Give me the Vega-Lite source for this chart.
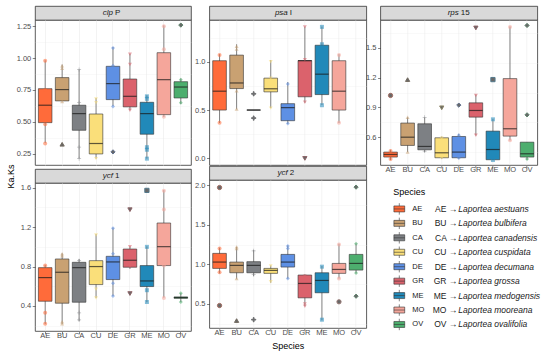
{
"padding": {"left": 5, "top": 5, "right": 0, "bottom": 0},
"background": "white",
"datasets": {
"genes": [
{"gene": "clpP", "it": "clp", "rest": "P"},
{"gene": "psaI", "it": "psa", "rest": "I"},
{"gene": "rps15", "it": "rps", "rest": "15"},
{"gene": "ycf1", "it": "ycf", "rest": "1"},
{"gene": "ycf2", "it": "ycf", "rest": "2"}
],
"desc": [
{"sp": "AE", "code": "AE →", "name": "Laportea aestuans"},
{"sp": "BU", "code": "BU →", "name": "Laportea bulbifera"},
{"sp": "CA", "code": "CA →", "name": "Laportea canadensis"},
{"sp": "CU", "code": "CU →", "name": "Laportea cuspidata"},
{"sp": "DE", "code": "DE →", "name": "Laportea decumana"},
{"sp": "GR", "code": "GR →", "name": "Laportea grossa"},
{"sp": "ME", "code": "ME →", "name": "Laportea medogensis"},
{"sp": "MO", "code": "MO →", "name": "Laportea mooreana"},
{"sp": "OV", "code": "OV →", "name": "Laportea ovalifolia"}
],
"box": [
{"gene": "clpP", "sp": "AE", "lo": 0.334, "q1": 0.493, "med": 0.63, "q3": 0.76, "hi": 0.983},
{"gene": "clpP", "sp": "BU", "lo": 0.664, "q1": 0.664, "med": 0.753, "q3": 0.847, "hi": 0.95},
{"gene": "clpP", "sp": "CA", "lo": 0.21, "q1": 0.433, "med": 0.564, "q3": 0.63, "hi": 0.912},
{"gene": "clpP", "sp": "CU", "lo": 0.21, "q1": 0.247, "med": 0.329, "q3": 0.561, "hi": 0.687},
{"gene": "clpP", "sp": "DE", "lo": 0.622, "q1": 0.674, "med": 0.8, "q3": 0.936, "hi": 1.088},
{"gene": "clpP", "sp": "GR", "lo": 0.59, "q1": 0.617, "med": 0.7, "q3": 0.836, "hi": 1.035},
{"gene": "clpP", "sp": "ME", "lo": 0.21, "q1": 0.402, "med": 0.564, "q3": 0.653, "hi": 0.708},
{"gene": "clpP", "sp": "MO", "lo": 0.538, "q1": 0.556, "med": 0.831, "q3": 1.043, "hi": 1.258},
{"gene": "clpP", "sp": "OV", "lo": 0.64, "q1": 0.687, "med": 0.773, "q3": 0.815, "hi": 0.84},
{"gene": "psaI", "sp": "AE", "lo": 0.366, "q1": 0.5, "med": 0.695, "q3": 1.01, "hi": 1.078},
{"gene": "psaI", "sp": "BU", "lo": 0.508, "q1": 0.722, "med": 0.78, "q3": 1.068, "hi": 1.18},
{"gene": "psaI", "sp": "CA", "lo": 0.5, "q1": 0.5, "med": 0.5, "q3": 0.5, "hi": 0.5},
{"gene": "psaI", "sp": "CU", "lo": 0.52, "q1": 0.688, "med": 0.72, "q3": 0.83, "hi": 1.017},
{"gene": "psaI", "sp": "DE", "lo": 0.356, "q1": 0.39, "med": 0.525, "q3": 0.566, "hi": 0.79},
{"gene": "psaI", "sp": "GR", "lo": 0.576, "q1": 0.637, "med": 1.01, "q3": 1.012, "hi": 1.363},
{"gene": "psaI", "sp": "ME", "lo": 0.553, "q1": 0.66, "med": 0.871, "q3": 1.17, "hi": 1.363},
{"gene": "psaI", "sp": "MO", "lo": 0.366, "q1": 0.5, "med": 0.695, "q3": 1.01, "hi": 1.078},
{"gene": "rps15", "sp": "AE", "lo": 0.37, "q1": 0.4, "med": 0.426, "q3": 0.45, "hi": 0.473},
{"gene": "rps15", "sp": "BU", "lo": 0.45, "q1": 0.517, "med": 0.6, "q3": 0.742, "hi": 0.8},
{"gene": "rps15", "sp": "CA", "lo": 0.45, "q1": 0.473, "med": 0.507, "q3": 0.735, "hi": 0.8},
{"gene": "rps15", "sp": "CU", "lo": 0.383, "q1": 0.393, "med": 0.443, "q3": 0.594, "hi": 0.607},
{"gene": "rps15", "sp": "DE", "lo": 0.383, "q1": 0.393, "med": 0.45, "q3": 0.607, "hi": 0.634},
{"gene": "rps15", "sp": "GR", "lo": 0.617, "q1": 0.802, "med": 0.869, "q3": 0.946, "hi": 1.03},
{"gene": "rps15", "sp": "ME", "lo": 0.373, "q1": 0.373, "med": 0.476, "q3": 0.661, "hi": 0.785},
{"gene": "rps15", "sp": "MO", "lo": 0.567, "q1": 0.611, "med": 0.685, "q3": 1.19, "hi": 1.715},
{"gene": "rps15", "sp": "OV", "lo": 0.37, "q1": 0.4, "med": 0.433, "q3": 0.55, "hi": 0.55},
{"gene": "ycf1", "sp": "AE", "lo": 0.218, "q1": 0.448, "med": 0.688, "q3": 0.789, "hi": 0.816},
{"gene": "ycf1", "sp": "BU", "lo": 0.218, "q1": 0.428, "med": 0.742, "q3": 0.877, "hi": 0.934},
{"gene": "ycf1", "sp": "CA", "lo": 0.245, "q1": 0.438, "med": 0.789, "q3": 0.843, "hi": 0.877},
{"gene": "ycf1", "sp": "CU", "lo": 0.48, "q1": 0.617, "med": 0.8, "q3": 0.86, "hi": 1.13},
{"gene": "ycf1", "sp": "DE", "lo": 0.5, "q1": 0.668, "med": 0.847, "q3": 0.904, "hi": 1.195},
{"gene": "ycf1", "sp": "GR", "lo": 0.776, "q1": 0.793, "med": 0.864, "q3": 0.978, "hi": 1.005},
{"gene": "ycf1", "sp": "ME", "lo": 0.438, "q1": 0.597, "med": 0.654, "q3": 0.81, "hi": 1.005},
{"gene": "ycf1", "sp": "MO", "lo": 0.485, "q1": 0.81, "med": 1.002, "q3": 1.242, "hi": 1.576},
{"gene": "ycf1", "sp": "OV", "lo": 0.44, "q1": 0.478, "med": 0.485, "q3": 0.492, "hi": 0.53},
{"gene": "ycf2", "sp": "AE", "lo": 0.885, "q1": 0.948, "med": 1.028, "q3": 1.138, "hi": 1.21},
{"gene": "ycf2", "sp": "BU", "lo": 0.817, "q1": 0.893, "med": 0.986, "q3": 1.028, "hi": 1.22},
{"gene": "ycf2", "sp": "CA", "lo": 0.85, "q1": 0.893, "med": 0.986, "q3": 1.033, "hi": 1.18},
{"gene": "ycf2", "sp": "CU", "lo": 0.766, "q1": 0.885, "med": 0.923, "q3": 0.948, "hi": 0.986},
{"gene": "ycf2", "sp": "DE", "lo": 0.817, "q1": 0.965, "med": 1.028, "q3": 1.125, "hi": 1.24},
{"gene": "ycf2", "sp": "GR", "lo": 0.47, "q1": 0.576, "med": 0.758, "q3": 0.864, "hi": 0.872},
{"gene": "ycf2", "sp": "ME", "lo": 0.293, "q1": 0.64, "med": 0.796, "q3": 0.893, "hi": 0.978},
{"gene": "ycf2", "sp": "MO", "lo": 0.82, "q1": 0.885, "med": 0.935, "q3": 1.011, "hi": 1.26},
{"gene": "ycf2", "sp": "OV", "lo": 0.885, "q1": 0.927, "med": 1.011, "q3": 1.125, "hi": 1.265}
],
"pts": [
{"gene": "clpP", "species": "AE", "v": 0.98, "out": 0}, {"gene": "clpP", "species": "AE", "v": 0.75, "out": 0}, {"gene": "clpP", "species": "AE", "v": 0.48, "out": 0}, {"gene": "clpP", "species": "AE", "v": 0.33, "out": 0},
{"gene": "clpP", "species": "BU", "v": 0.94, "out": 0}, {"gene": "clpP", "species": "BU", "v": 0.92, "out": 0}, {"gene": "clpP", "species": "BU", "v": 0.66, "out": 0}, {"gene": "clpP", "species": "BU", "v": 0.323, "out": 1},
{"gene": "clpP", "species": "CA", "v": 0.91, "out": 0}, {"gene": "clpP", "species": "CA", "v": 0.65, "out": 0}, {"gene": "clpP", "species": "CA", "v": 0.3, "out": 0}, {"gene": "clpP", "species": "CA", "v": 0.21, "out": 0},
{"gene": "clpP", "species": "CU", "v": 0.68, "out": 0}, {"gene": "clpP", "species": "CU", "v": 0.65, "out": 0}, {"gene": "clpP", "species": "CU", "v": 0.21, "out": 0},
{"gene": "clpP", "species": "DE", "v": 1.08, "out": 0}, {"gene": "clpP", "species": "DE", "v": 0.94, "out": 0}, {"gene": "clpP", "species": "DE", "v": 0.62, "out": 0}, {"gene": "clpP", "species": "DE", "v": 0.263, "out": 1},
{"gene": "clpP", "species": "GR", "v": 1.03, "out": 0}, {"gene": "clpP", "species": "GR", "v": 0.95, "out": 0}, {"gene": "clpP", "species": "GR", "v": 0.59, "out": 0},
{"gene": "clpP", "species": "ME", "v": 0.7, "out": 0}, {"gene": "clpP", "species": "ME", "v": 0.68, "out": 0}, {"gene": "clpP", "species": "ME", "v": 0.3, "out": 0}, {"gene": "clpP", "species": "ME", "v": 0.28, "out": 0}, {"gene": "clpP", "species": "ME", "v": 0.21, "out": 0},
{"gene": "clpP", "species": "MO", "v": 1.25, "out": 0}, {"gene": "clpP", "species": "MO", "v": 1.07, "out": 0}, {"gene": "clpP", "species": "MO", "v": 0.54, "out": 0},
{"gene": "clpP", "species": "OV", "v": 0.83, "out": 0}, {"gene": "clpP", "species": "OV", "v": 0.65, "out": 0}, {"gene": "clpP", "species": "OV", "v": 1.26, "out": 1},
{"gene": "psaI", "species": "AE", "v": 1.07, "out": 0}, {"gene": "psaI", "species": "AE", "v": 0.37, "out": 0},
{"gene": "psaI", "species": "BU", "v": 1.16, "out": 0}, {"gene": "psaI", "species": "BU", "v": 1.13, "out": 0}, {"gene": "psaI", "species": "BU", "v": 0.7, "out": 0}, {"gene": "psaI", "species": "BU", "v": 0.51, "out": 0},
{"gene": "psaI", "species": "CA", "v": 0.668, "out": 1}, {"gene": "psaI", "species": "CA", "v": 0.417, "out": 1},
{"gene": "psaI", "species": "CU", "v": 1.0, "out": 0}, {"gene": "psaI", "species": "CU", "v": 0.83, "out": 0}, {"gene": "psaI", "species": "CU", "v": 0.52, "out": 0},
{"gene": "psaI", "species": "DE", "v": 0.77, "out": 0}, {"gene": "psaI", "species": "DE", "v": 0.36, "out": 0},
{"gene": "psaI", "species": "GR", "v": 1.36, "out": 0}, {"gene": "psaI", "species": "GR", "v": 1.02, "out": 0}, {"gene": "psaI", "species": "GR", "v": 0.58, "out": 0}, {"gene": "psaI", "species": "GR", "v": 0.0, "out": 1},
{"gene": "psaI", "species": "ME", "v": 1.36, "out": 0}, {"gene": "psaI", "species": "ME", "v": 1.18, "out": 0}, {"gene": "psaI", "species": "ME", "v": 0.55, "out": 0},
{"gene": "psaI", "species": "MO", "v": 1.07, "out": 0}, {"gene": "psaI", "species": "MO", "v": 0.37, "out": 0},
{"gene": "rps15", "species": "AE", "v": 0.46, "out": 0}, {"gene": "rps15", "species": "AE", "v": 0.38, "out": 0}, {"gene": "rps15", "species": "AE", "v": 1.02, "out": 1},
{"gene": "rps15", "species": "BU", "v": 0.8, "out": 0}, {"gene": "rps15", "species": "BU", "v": 0.45, "out": 0}, {"gene": "rps15", "species": "BU", "v": 1.18, "out": 1},
{"gene": "rps15", "species": "CA", "v": 0.8, "out": 0}, {"gene": "rps15", "species": "CA", "v": 0.46, "out": 0},
{"gene": "rps15", "species": "CU", "v": 0.59, "out": 0}, {"gene": "rps15", "species": "CU", "v": 0.39, "out": 0}, {"gene": "rps15", "species": "CU", "v": 0.896, "out": 1},
{"gene": "rps15", "species": "DE", "v": 0.62, "out": 0}, {"gene": "rps15", "species": "DE", "v": 0.39, "out": 0}, {"gene": "rps15", "species": "DE", "v": 0.923, "out": 1},
{"gene": "rps15", "species": "GR", "v": 1.02, "out": 0}, {"gene": "rps15", "species": "GR", "v": 0.62, "out": 0}, {"gene": "rps15", "species": "GR", "v": 1.7, "out": 1},
{"gene": "rps15", "species": "ME", "v": 0.78, "out": 0}, {"gene": "rps15", "species": "ME", "v": 0.37, "out": 0}, {"gene": "rps15", "species": "ME", "v": 1.18, "out": 1},
{"gene": "rps15", "species": "MO", "v": 1.71, "out": 0}, {"gene": "rps15", "species": "MO", "v": 0.57, "out": 0},
{"gene": "rps15", "species": "OV", "v": 0.38, "out": 0}, {"gene": "rps15", "species": "OV", "v": 1.725, "out": 1}, {"gene": "rps15", "species": "OV", "v": 0.825, "out": 1},
{"gene": "ycf1", "species": "AE", "v": 0.81, "out": 0}, {"gene": "ycf1", "species": "AE", "v": 0.33, "out": 0}, {"gene": "ycf1", "species": "AE", "v": 0.22, "out": 0},
{"gene": "ycf1", "species": "BU", "v": 0.93, "out": 0}, {"gene": "ycf1", "species": "BU", "v": 0.91, "out": 0}, {"gene": "ycf1", "species": "BU", "v": 0.24, "out": 0}, {"gene": "ycf1", "species": "BU", "v": 0.22, "out": 0},
{"gene": "ycf1", "species": "CA", "v": 0.86, "out": 0}, {"gene": "ycf1", "species": "CA", "v": 0.33, "out": 0}, {"gene": "ycf1", "species": "CA", "v": 0.26, "out": 0},
{"gene": "ycf1", "species": "CU", "v": 1.12, "out": 0}, {"gene": "ycf1", "species": "CU", "v": 0.57, "out": 0}, {"gene": "ycf1", "species": "CU", "v": 0.48, "out": 0},
{"gene": "ycf1", "species": "DE", "v": 1.19, "out": 0}, {"gene": "ycf1", "species": "DE", "v": 0.93, "out": 0}, {"gene": "ycf1", "species": "DE", "v": 0.63, "out": 0}, {"gene": "ycf1", "species": "DE", "v": 0.5, "out": 0},
{"gene": "ycf1", "species": "GR", "v": 1.0, "out": 0}, {"gene": "ycf1", "species": "GR", "v": 0.8, "out": 0}, {"gene": "ycf1", "species": "GR", "v": 1.377, "out": 1}, {"gene": "ycf1", "species": "GR", "v": 0.526, "out": 1},
{"gene": "ycf1", "species": "ME", "v": 1.0, "out": 0}, {"gene": "ycf1", "species": "ME", "v": 0.56, "out": 0}, {"gene": "ycf1", "species": "ME", "v": 0.44, "out": 0}, {"gene": "ycf1", "species": "ME", "v": 1.573, "out": 1},
{"gene": "ycf1", "species": "MO", "v": 1.57, "out": 0}, {"gene": "ycf1", "species": "MO", "v": 1.38, "out": 0}, {"gene": "ycf1", "species": "MO", "v": 0.81, "out": 0}, {"gene": "ycf1", "species": "MO", "v": 0.48, "out": 0},
{"gene": "ycf1", "species": "OV", "v": 0.53, "out": 0}, {"gene": "ycf1", "species": "OV", "v": 0.44, "out": 0},
{"gene": "ycf2", "species": "AE", "v": 1.2, "out": 0}, {"gene": "ycf2", "species": "AE", "v": 0.9, "out": 0}, {"gene": "ycf2", "species": "AE", "v": 1.97, "out": 1}, {"gene": "ycf2", "species": "AE", "v": 0.479, "out": 1},
{"gene": "ycf2", "species": "BU", "v": 1.22, "out": 0}, {"gene": "ycf2", "species": "BU", "v": 1.2, "out": 0}, {"gene": "ycf2", "species": "BU", "v": 0.82, "out": 0}, {"gene": "ycf2", "species": "BU", "v": 0.289, "out": 1},
{"gene": "ycf2", "species": "CA", "v": 1.17, "out": 0}, {"gene": "ycf2", "species": "CA", "v": 0.87, "out": 0}, {"gene": "ycf2", "species": "CA", "v": 0.3, "out": 1},
{"gene": "ycf2", "species": "CU", "v": 0.98, "out": 0}, {"gene": "ycf2", "species": "CU", "v": 0.78, "out": 0},
{"gene": "ycf2", "species": "DE", "v": 1.23, "out": 0}, {"gene": "ycf2", "species": "DE", "v": 1.2, "out": 0}, {"gene": "ycf2", "species": "DE", "v": 0.82, "out": 0},
{"gene": "ycf2", "species": "GR", "v": 0.85, "out": 0}, {"gene": "ycf2", "species": "GR", "v": 0.5, "out": 0}, {"gene": "ycf2", "species": "GR", "v": 0.47, "out": 0},
{"gene": "ycf2", "species": "ME", "v": 0.97, "out": 0}, {"gene": "ycf2", "species": "ME", "v": 0.3, "out": 0},
{"gene": "ycf2", "species": "MO", "v": 1.25, "out": 0}, {"gene": "ycf2", "species": "MO", "v": 0.82, "out": 0}, {"gene": "ycf2", "species": "MO", "v": 0.526, "out": 1},
{"gene": "ycf2", "species": "OV", "v": 1.26, "out": 0}, {"gene": "ycf2", "species": "OV", "v": 0.89, "out": 0}, {"gene": "ycf2", "species": "OV", "v": 1.975, "out": 1}, {"gene": "ycf2", "species": "OV", "v": 0.597, "out": 1}
]
},
"spacing": -2.7,
"hconcat": [
{"spacing": 1.3, "hconcat": [
{"spacing": -3, "vconcat": [
 {"spacing": 0, "bounds": "flush", "vconcat": [
  {"width": 156, "height": 14, "data": {"name": "genes"}, "transform": [{"filter": "datum.gene=='clpP'"}], "view": {"fill": "#D9D9D9", "stroke": "#333333", "strokeWidth": 0.8},
   "layer": [
    {"mark": {"type": "text", "align": "right", "fontStyle": "italic", "fontSize": 8, "color": "#1A1A1A"}, "encoding": {"text": {"field": "it", "type": "nominal"}}},
    {"mark": {"type": "text", "align": "left", "dx": 2, "fontSize": 8, "color": "#1A1A1A"}, "encoding": {"text": {"field": "rest", "type": "nominal"}}}
   ]},
  {"width": 156, "height": 145, "resolve": {"axis": {"y": "independent"}}, "layer": [
   {"data": {"name": "box"}, "transform": [{"filter": "datum.gene=='clpP'"}], "mark": {"type": "rule", "color": "#333333", "strokeWidth": 0.6}, "encoding": {"x": {"field": "sp", "type": "nominal"}, "y": {"field": "lo", "type": "quantitative", "axis": {"orient": "left", "values": [0.375,0.625,0.875,1.125], "grid": true, "gridWidth": 0.3, "labels": false, "ticks": false, "domain": false, "title": null}}, "y2": {"field": "hi"}}},
   {"data": {"name": "box"}, "transform": [{"filter": "datum.gene=='clpP'"}], "mark": {"type": "bar", "stroke": "#333333", "strokeWidth": 0.6},
    "encoding": {
     "x": {"field": "sp", "type": "nominal", "scale": {"type": "band", "domain": ["AE","BU","CA","CU","DE","GR","ME","MO","OV"], "paddingInner": 0.2, "paddingOuter": 0.2}, "axis": {"labels": false, "ticks": false, "title": null, "grid": true, "bandPosition": 0.5, "minExtent": 0, "maxExtent": 0, "labelPadding": 0, "tickSize": 0, "titlePadding": 0}},
     "y": {"field": "q1", "type": "quantitative", "scale": {"domain": [0.16, 1.3], "nice": false, "zero": false},
       "axis": {"orient": "left", "title": null, "values": [0.25,0.5,0.75,1,1.25], "format": ".2f", "labelOverlap": false, "labelSeparation": -30}},
     "y2": {"field": "q3"},
     "color": {"field": "sp", "type": "nominal", "scale": {"domain": ["AE","BU","CA","CU","DE","GR","ME","MO","OV"], "range": ["#FF6B3A","#C9A172","#7D8084","#FADF7A","#5E90E4","#DB626C","#2189B9","#F5A69B","#4DAE6E"]}, "legend": null}
    }},
   {"data": {"name": "box"}, "transform": [{"filter": "datum.gene=='clpP'"}], "mark": {"type": "tick", "color": "#1A1A1A", "thickness": 1.2, "size": 13.5}, "encoding": {"x": {"field": "sp", "type": "nominal"}, "y": {"field": "med", "type": "quantitative", "axis": null}}},
   {"data": {"name": "pts"}, "transform": [{"filter": "datum.gene=='clpP' && datum.out==0"}], "mark": {"type": "point", "filled": true, "size": 16, "fillOpacity": 0.55, "strokeWidth": 0},
    "encoding": {"x": {"field": "species", "type": "nominal"}, "y": {"field": "v", "type": "quantitative", "axis": null},
     "fill": {"field": "species", "type": "nominal", "scale": {"domain": ["AE","BU","CA","CU","DE","GR","ME","MO","OV"], "range": ["#FF6B3A","#C9A172","#7D8084","#FADF7A","#5E90E4","#DB626C","#2189B9","#F5A69B","#4DAE6E"]}, "legend": null},
     "shape": {"field": "species", "type": "nominal", "scale": {"domain": ["AE","BU","CA","CU","DE","GR","ME","MO","OV"], "range": ["circle","triangle-up","M-1,-0.18H-0.18V-1H0.18V-0.18H1V0.18H0.18V1H-0.18V0.18H-1Z","triangle-down","diamond","triangle-down","square","circle","diamond"]}, "legend": null}}},
   {"data": {"name": "pts"}, "transform": [{"filter": "datum.gene=='clpP' && datum.out==1"}], "mark": {"type": "point", "filled": true, "size": 18, "fill": "#2B2B2B", "strokeWidth": 1},
    "encoding": {"x": {"field": "species", "type": "nominal"}, "y": {"field": "v", "type": "quantitative", "axis": null},
     "stroke": {"field": "species", "type": "nominal", "scale": {"domain": ["AE","BU","CA","CU","DE","GR","ME","MO","OV"], "range": ["#7A2C1C","#3A2E1E","#2E3033","#5E5428","#22385E","#5E2328","#0E435E","#6B3F3A","#1C5230"]}, "legend": null},
     "shape": {"field": "species", "type": "nominal", "legend": null}}}
  ]}
 ]},
 {"spacing": 0, "bounds": "flush", "vconcat": [
  {"width": 156, "height": 14, "data": {"name": "genes"}, "transform": [{"filter": "datum.gene=='ycf1'"}], "view": {"fill": "#D9D9D9", "stroke": "#333333", "strokeWidth": 0.8},
   "layer": [
    {"mark": {"type": "text", "align": "right", "fontStyle": "italic", "fontSize": 8, "color": "#1A1A1A"}, "encoding": {"text": {"field": "it", "type": "nominal"}}},
    {"mark": {"type": "text", "align": "left", "dx": 2, "fontSize": 8, "color": "#1A1A1A"}, "encoding": {"text": {"field": "rest", "type": "nominal"}}}
   ]},
  {"width": 156, "height": 148, "resolve": {"axis": {"y": "independent"}}, "layer": [
   {"data": {"name": "box"}, "transform": [{"filter": "datum.gene=='ycf1'"}], "mark": {"type": "rule", "color": "#333333", "strokeWidth": 0.6}, "encoding": {"x": {"field": "sp", "type": "nominal"}, "y": {"field": "lo", "type": "quantitative", "axis": {"orient": "left", "values": [0.2,0.6,1.0,1.4], "grid": true, "gridWidth": 0.3, "labels": false, "ticks": false, "domain": false, "title": null}}, "y2": {"field": "hi"}}},
   {"data": {"name": "box"}, "transform": [{"filter": "datum.gene=='ycf1'"}], "mark": {"type": "bar", "stroke": "#333333", "strokeWidth": 0.6},
    "encoding": {
     "x": {"field": "sp", "type": "nominal", "scale": {"type": "band", "domain": ["AE","BU","CA","CU","DE","GR","ME","MO","OV"], "paddingInner": 0.2, "paddingOuter": 0.2}, "axis": {"title": null, "grid": true, "bandPosition": 0.5, "labelAngle": 0, "labelAlign": "center"}},
     "y": {"field": "q1", "type": "quantitative", "scale": {"domain": [0.146, 1.648], "nice": false, "zero": false},
       "axis": {"orient": "left", "title": "Ka.Ks", "titleY": -7, "titlePadding": 5, "values": [0.4,0.8,1.2,1.6], "format": ".1f", "labelOverlap": false}},
     "y2": {"field": "q3"},
     "color": {"field": "sp", "type": "nominal", "legend": null}
    }},
   {"data": {"name": "box"}, "transform": [{"filter": "datum.gene=='ycf1'"}], "mark": {"type": "tick", "color": "#1A1A1A", "thickness": 1.2, "size": 13.5}, "encoding": {"x": {"field": "sp", "type": "nominal"}, "y": {"field": "med", "type": "quantitative", "axis": null}}},
   {"data": {"name": "pts"}, "transform": [{"filter": "datum.gene=='ycf1' && datum.out==0"}], "mark": {"type": "point", "filled": true, "size": 16, "fillOpacity": 0.55, "strokeWidth": 0},
    "encoding": {"x": {"field": "species", "type": "nominal"}, "y": {"field": "v", "type": "quantitative", "axis": null}, "fill": {"field": "species", "type": "nominal", "legend": null}, "shape": {"field": "species", "type": "nominal", "legend": null}}},
   {"data": {"name": "pts"}, "transform": [{"filter": "datum.gene=='ycf1' && datum.out==1"}], "mark": {"type": "point", "filled": true, "size": 18, "fill": "#2B2B2B", "strokeWidth": 1},
    "encoding": {"x": {"field": "species", "type": "nominal"}, "y": {"field": "v", "type": "quantitative", "axis": null}, "stroke": {"field": "species", "type": "nominal", "legend": null}, "shape": {"field": "species", "type": "nominal", "legend": null}}}
  ]}
 ]}
]},
{"spacing": -3, "vconcat": [
 {"spacing": 0, "bounds": "flush", "vconcat": [
  {"width": 157, "height": 14, "data": {"name": "genes"}, "transform": [{"filter": "datum.gene=='psaI'"}], "view": {"fill": "#D9D9D9", "stroke": "#333333", "strokeWidth": 0.8},
   "layer": [
    {"mark": {"type": "text", "align": "right", "fontStyle": "italic", "fontSize": 8, "color": "#1A1A1A"}, "encoding": {"text": {"field": "it", "type": "nominal"}}},
    {"mark": {"type": "text", "align": "left", "dx": 2, "fontSize": 8, "color": "#1A1A1A"}, "encoding": {"text": {"field": "rest", "type": "nominal"}}}
   ]},
  {"width": 157, "height": 145, "resolve": {"axis": {"y": "independent"}}, "layer": [
   {"data": {"name": "box"}, "transform": [{"filter": "datum.gene=='psaI'"}], "mark": {"type": "rule", "color": "#333333", "strokeWidth": 0.6}, "encoding": {"x": {"field": "sp", "type": "nominal"}, "y": {"field": "lo", "type": "quantitative", "axis": {"orient": "left", "values": [0.25,0.75,1.25], "grid": true, "gridWidth": 0.3, "labels": false, "ticks": false, "domain": false, "title": null}}, "y2": {"field": "hi"}}},
   {"data": {"name": "box"}, "transform": [{"filter": "datum.gene=='psaI'"}], "mark": {"type": "bar", "stroke": "#333333", "strokeWidth": 0.6},
    "encoding": {
     "x": {"field": "sp", "type": "nominal", "scale": {"type": "band", "domain": ["AE","BU","CA","CU","DE","GR","ME","MO","OV"], "paddingInner": 0.2, "paddingOuter": 0.2}, "axis": {"labels": false, "ticks": false, "title": null, "grid": true, "bandPosition": 0.5, "minExtent": 0, "maxExtent": 0, "labelPadding": 0, "tickSize": 0, "titlePadding": 0}},
     "y": {"field": "q1", "type": "quantitative", "scale": {"domain": [-0.068, 1.431], "nice": false, "zero": false},
       "axis": {"orient": "left", "title": null, "values": [0,0.5,1.0], "format": ".1f", "labelOverlap": false}},
     "y2": {"field": "q3"},
     "color": {"field": "sp", "type": "nominal", "legend": null}
    }},
   {"data": {"name": "box"}, "transform": [{"filter": "datum.gene=='psaI'"}], "mark": {"type": "tick", "color": "#1A1A1A", "thickness": 1.2, "size": 13.6}, "encoding": {"x": {"field": "sp", "type": "nominal"}, "y": {"field": "med", "type": "quantitative", "axis": null}}},
   {"data": {"name": "pts"}, "transform": [{"filter": "datum.gene=='psaI' && datum.out==0"}], "mark": {"type": "point", "filled": true, "size": 16, "fillOpacity": 0.55, "strokeWidth": 0},
    "encoding": {"x": {"field": "species", "type": "nominal"}, "y": {"field": "v", "type": "quantitative", "axis": null}, "fill": {"field": "species", "type": "nominal", "legend": null}, "shape": {"field": "species", "type": "nominal", "legend": null}}},
   {"data": {"name": "pts"}, "transform": [{"filter": "datum.gene=='psaI' && datum.out==1"}], "mark": {"type": "point", "filled": true, "size": 18, "fill": "#2B2B2B", "strokeWidth": 1},
    "encoding": {"x": {"field": "species", "type": "nominal"}, "y": {"field": "v", "type": "quantitative", "axis": null}, "stroke": {"field": "species", "type": "nominal", "legend": null}, "shape": {"field": "species", "type": "nominal", "legend": null}}}
  ]}
 ]},
 {"spacing": 0, "bounds": "flush", "vconcat": [
  {"width": 157, "height": 14, "data": {"name": "genes"}, "transform": [{"filter": "datum.gene=='ycf2'"}], "view": {"fill": "#D9D9D9", "stroke": "#333333", "strokeWidth": 0.8},
   "layer": [
    {"mark": {"type": "text", "align": "right", "fontStyle": "italic", "fontSize": 8, "color": "#1A1A1A"}, "encoding": {"text": {"field": "it", "type": "nominal"}}},
    {"mark": {"type": "text", "align": "left", "dx": 2, "fontSize": 8, "color": "#1A1A1A"}, "encoding": {"text": {"field": "rest", "type": "nominal"}}}
   ]},
  {"width": 157, "height": 148, "resolve": {"axis": {"y": "independent"}}, "layer": [
   {"data": {"name": "box"}, "transform": [{"filter": "datum.gene=='ycf2'"}], "mark": {"type": "rule", "color": "#333333", "strokeWidth": 0.6}, "encoding": {"x": {"field": "sp", "type": "nominal"}, "y": {"field": "lo", "type": "quantitative", "axis": {"orient": "left", "values": [0.25,0.75,1.25,1.75], "grid": true, "gridWidth": 0.3, "labels": false, "ticks": false, "domain": false, "title": null}}, "y2": {"field": "hi"}}},
   {"data": {"name": "box"}, "transform": [{"filter": "datum.gene=='ycf2'"}], "mark": {"type": "bar", "stroke": "#333333", "strokeWidth": 0.6},
    "encoding": {
     "x": {"field": "sp", "type": "nominal", "scale": {"type": "band", "domain": ["AE","BU","CA","CU","DE","GR","ME","MO","OV"], "paddingInner": 0.2, "paddingOuter": 0.2}, "axis": {"title": "Species", "titlePadding": 6, "grid": true, "bandPosition": 0.5, "labelAngle": 0, "labelAlign": "center"}},
     "y": {"field": "q1", "type": "quantitative", "scale": {"domain": [0.195, 2.065], "nice": false, "zero": false},
       "axis": {"orient": "left", "title": null, "values": [0.5,1.0,1.5,2.0], "format": ".1f", "labelOverlap": false}},
     "y2": {"field": "q3"},
     "color": {"field": "sp", "type": "nominal", "legend": null}
    }},
   {"data": {"name": "box"}, "transform": [{"filter": "datum.gene=='ycf2'"}], "mark": {"type": "tick", "color": "#1A1A1A", "thickness": 1.2, "size": 13.6}, "encoding": {"x": {"field": "sp", "type": "nominal"}, "y": {"field": "med", "type": "quantitative", "axis": null}}},
   {"data": {"name": "pts"}, "transform": [{"filter": "datum.gene=='ycf2' && datum.out==0"}], "mark": {"type": "point", "filled": true, "size": 16, "fillOpacity": 0.55, "strokeWidth": 0},
    "encoding": {"x": {"field": "species", "type": "nominal"}, "y": {"field": "v", "type": "quantitative", "axis": null}, "fill": {"field": "species", "type": "nominal", "legend": null}, "shape": {"field": "species", "type": "nominal", "legend": null}}},
   {"data": {"name": "pts"}, "transform": [{"filter": "datum.gene=='ycf2' && datum.out==1"}], "mark": {"type": "point", "filled": true, "size": 18, "fill": "#2B2B2B", "strokeWidth": 1},
    "encoding": {"x": {"field": "species", "type": "nominal"}, "y": {"field": "v", "type": "quantitative", "axis": null}, "stroke": {"field": "species", "type": "nominal", "legend": null}, "shape": {"field": "species", "type": "nominal", "legend": null}}}
  ]}
 ]}
]}
]},
{"spacing": 13.7, "vconcat": [
 {"spacing": 0, "bounds": "flush", "vconcat": [
  {"width": 157, "height": 14, "data": {"name": "genes"}, "transform": [{"filter": "datum.gene=='rps15'"}], "view": {"fill": "#D9D9D9", "stroke": "#333333", "strokeWidth": 0.8},
   "layer": [
    {"mark": {"type": "text", "align": "right", "fontStyle": "italic", "fontSize": 8, "color": "#1A1A1A"}, "encoding": {"text": {"field": "it", "type": "nominal"}}},
    {"mark": {"type": "text", "align": "left", "dx": 2, "fontSize": 8, "color": "#1A1A1A"}, "encoding": {"text": {"field": "rest", "type": "nominal"}}}
   ]},
  {"width": 157, "height": 145, "resolve": {"axis": {"y": "independent"}}, "layer": [
   {"data": {"name": "box"}, "transform": [{"filter": "datum.gene=='rps15'"}], "mark": {"type": "rule", "color": "#333333", "strokeWidth": 0.6}, "encoding": {"x": {"field": "sp", "type": "nominal"}, "y": {"field": "lo", "type": "quantitative", "axis": {"orient": "left", "values": [0.45,0.75,1.05,1.35,1.65], "grid": true, "gridWidth": 0.3, "labels": false, "ticks": false, "domain": false, "title": null}}, "y2": {"field": "hi"}}},
   {"data": {"name": "box"}, "transform": [{"filter": "datum.gene=='rps15'"}], "mark": {"type": "bar", "stroke": "#333333", "strokeWidth": 0.6},
    "encoding": {
     "x": {"field": "sp", "type": "nominal", "scale": {"type": "band", "domain": ["AE","BU","CA","CU","DE","GR","ME","MO","OV"], "paddingInner": 0.2, "paddingOuter": 0.2}, "axis": {"title": null, "grid": true, "bandPosition": 0.5, "labelAngle": 0, "labelAlign": "center"}},
     "y": {"field": "q1", "type": "quantitative", "scale": {"domain": [0.32, 1.78], "nice": false, "zero": false},
       "axis": {"orient": "left", "title": null, "values": [0.6,0.9,1.2,1.5], "format": ".1f", "labelOverlap": false}},
     "y2": {"field": "q3"},
     "color": {"field": "sp", "type": "nominal", "legend": null}
    }},
   {"data": {"name": "box"}, "transform": [{"filter": "datum.gene=='rps15'"}], "mark": {"type": "tick", "color": "#1A1A1A", "thickness": 1.2, "size": 13.6}, "encoding": {"x": {"field": "sp", "type": "nominal"}, "y": {"field": "med", "type": "quantitative", "axis": null}}},
   {"data": {"name": "pts"}, "transform": [{"filter": "datum.gene=='rps15' && datum.out==0"}], "mark": {"type": "point", "filled": true, "size": 16, "fillOpacity": 0.55, "strokeWidth": 0},
    "encoding": {"x": {"field": "species", "type": "nominal"}, "y": {"field": "v", "type": "quantitative", "axis": null}, "fill": {"field": "species", "type": "nominal", "legend": null}, "shape": {"field": "species", "type": "nominal", "legend": null}}},
   {"data": {"name": "pts"}, "transform": [{"filter": "datum.gene=='rps15' && datum.out==1"}], "mark": {"type": "point", "filled": true, "size": 18, "fill": "#2B2B2B", "strokeWidth": 1},
    "encoding": {"x": {"field": "species", "type": "nominal"}, "y": {"field": "v", "type": "quantitative", "axis": null}, "stroke": {"field": "species", "type": "nominal", "legend": null}, "shape": {"field": "species", "type": "nominal", "legend": null}}}
  ]}
 ]},
 {"width": 154, "height": 130, "data": {"name": "desc"}, "view": {"stroke": null, "fill": "transparent"},
  "title": {"text": "Species", "anchor": "start", "dx": 13, "offset": 5, "fontSize": 9, "fontWeight": "normal", "color": "#000000"},
  "encoding": {"y": {"field": "sp", "type": "nominal", "scale": {"type": "point", "domain": ["AE","BU","CA","CU","DE","GR","ME","MO","OV"], "padding": 0.5}, "axis": null}},
  "layer": [
   {"mark": {"type": "point", "filled": true, "size": 144, "shape": "M-0.9,-0.5H0.9V0.5H-0.9Z M-0.9,0H0.9 M0,-0.5V-0.95 M0,0.5V0.95", "stroke": "#333333", "strokeWidth": 0.6, "opacity": 1},
    "encoding": {"xOffset": {"value": -58}, "fill": {"field": "sp", "type": "nominal", "legend": null}}},
   {"mark": {"type": "text", "align": "left", "dx": -45, "fontSize": 7.5, "color": "#1A1A1A"}, "encoding": {"text": {"field": "sp", "type": "nominal"}}},
   {"mark": {"type": "text", "align": "right", "fontSize": 8.5, "color": "#1A1A1A"}, "encoding": {"text": {"field": "code", "type": "nominal"}}},
   {"mark": {"type": "text", "align": "left", "dx": 1, "fontSize": 8.5, "fontStyle": "italic", "color": "#1A1A1A"}, "encoding": {"text": {"field": "name", "type": "nominal"}}}
  ]}
]}
],
"config": {
 "font": "Liberation Sans",
 "view": {"stroke": "#333333", "strokeWidth": 0.8, "fill": "white"},
 "axis": {"labelFontSize": 7.5, "labelColor": "#4D4D4D", "labelFont": "Liberation Sans", "tickColor": "#333333", "tickSize": 2.75, "tickWidth": 0.6, "domain": false, "gridColor": "#EBEBEB", "gridWidth": 0.6, "labelPadding": 1.5, "titleFontSize": 9, "titleFontWeight": "normal", "titleColor": "#000000", "titleFont": "Liberation Sans"},
 "axisY": {"labelOverlap": false}
}
}
